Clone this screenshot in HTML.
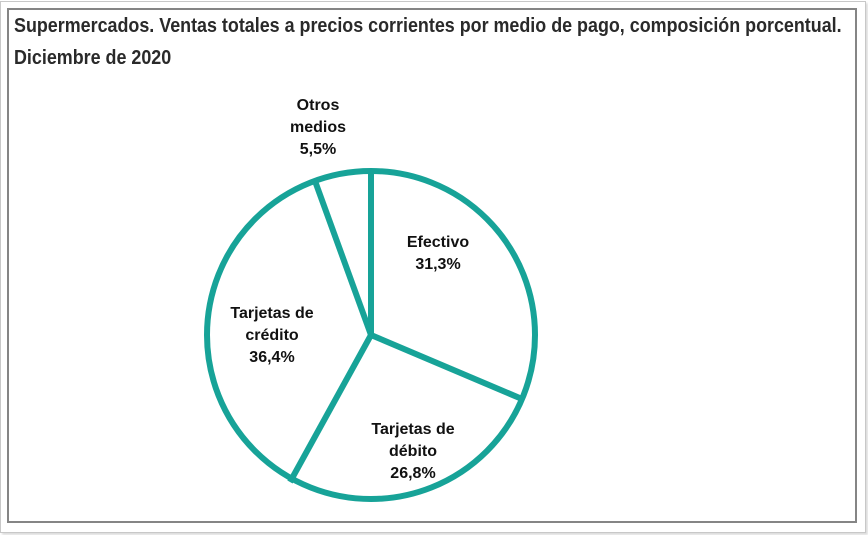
<!DOCTYPE html>
<html><head><meta charset="utf-8"><style>
html,body{margin:0;padding:0;background:#fff;}
body{width:868px;height:535px;position:relative;overflow:hidden;font-family:"Liberation Sans",sans-serif;}
.outer{position:absolute;left:0;top:1px;width:864px;height:530px;border:1px solid #c8c8c8;box-shadow:2px 2px 2px #ddd;}
.inner{position:absolute;left:7px;top:8px;width:846px;height:511px;border:2px solid #858585;}
.t{position:absolute;left:14px;font-weight:bold;font-size:20px;color:#2a2a2a;transform-origin:0 0;transform:scaleX(0.895);white-space:nowrap;}
.l{position:absolute;font-weight:bold;font-size:16px;color:#111;text-align:center;line-height:22px;transform:translateX(-50%);white-space:nowrap;}
</style></head><body>
<div class="outer"></div><div class="inner"></div>
<div class="t" style="top:15px">Supermercados. Ventas totales a precios corrientes por medio de pago, composición porcentual.</div>
<div class="t" style="top:47px">Diciembre de 2020</div>
<svg width="868" height="535" style="position:absolute;left:0;top:0">
<g stroke="#17a398" stroke-width="6" fill="none">
<circle cx="371" cy="335" r="164"/>
<line x1="371" y1="335" x2="371" y2="171"/>
<line x1="371" y1="335" x2="522" y2="399"/>
<line x1="371" y1="335" x2="290" y2="482"/>
<line x1="371" y1="335" x2="315" y2="181"/>
</g></svg>
<div class="l" style="left:318px;top:95px">Otros<br>medios<br>5,5%</div>
<div class="l" style="left:438px;top:232px">Efectivo<br>31,3%</div>
<div class="l" style="left:272px;top:303px">Tarjetas de<br>crédito<br>36,4%</div>
<div class="l" style="left:413px;top:419px">Tarjetas de<br>débito<br>26,8%</div>
</body></html>
